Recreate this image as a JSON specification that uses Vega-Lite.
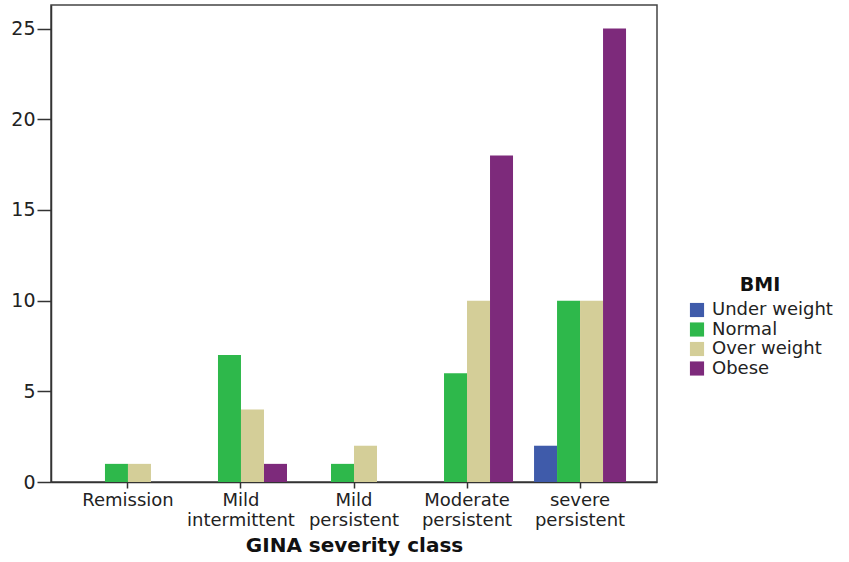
{
  "$schema": "https://vega.github.io/schema/vega-lite/v6.json",
  "width": 606,
  "height": 477,
  "autosize": {"type": "none"},
  "padding": {"left": 51, "top": 5, "right": 192, "bottom": 80},
  "background": "white",
  "config": {
    "font": "DejaVu Sans",
    "view": {"stroke": "#444", "strokeWidth": 1.5},
    "axis": {
      "domainColor": "#333",
      "domainWidth": 1.5,
      "tickColor": "#333",
      "tickWidth": 1.5,
      "labelColor": "#222",
      "labelFont": "DejaVu Sans",
      "labelFontSize": 18,
      "titleFont": "DejaVu Sans",
      "titleColor": "#111",
      "grid": false
    }
  },
  "data": {
    "values": [
      {"class": "Remission", "bmi": "Normal", "count": 1},
      {"class": "Remission", "bmi": "Over weight", "count": 1},
      {"class": "Mild intermittent", "bmi": "Normal", "count": 7},
      {"class": "Mild intermittent", "bmi": "Over weight", "count": 4},
      {"class": "Mild intermittent", "bmi": "Obese", "count": 1},
      {"class": "Mild persistent", "bmi": "Normal", "count": 1},
      {"class": "Mild persistent", "bmi": "Over weight", "count": 2},
      {"class": "Moderate persistent", "bmi": "Normal", "count": 6},
      {"class": "Moderate persistent", "bmi": "Over weight", "count": 10},
      {"class": "Moderate persistent", "bmi": "Obese", "count": 18},
      {"class": "severe persistent", "bmi": "Under weight", "count": 2},
      {"class": "severe persistent", "bmi": "Normal", "count": 10},
      {"class": "severe persistent", "bmi": "Over weight", "count": 10},
      {"class": "severe persistent", "bmi": "Obese", "count": 25}
    ]
  },
  "mark": {"type": "bar"},
  "encoding": {
    "x": {
      "field": "class",
      "type": "nominal",
      "scale": {
        "domain": ["Remission", "Mild intermittent", "Mild persistent", "Moderate persistent", "severe persistent"],
        "paddingInner": 0.186,
        "paddingOuter": 0.274
      },
      "axis": {
        "title": "GINA severity class",
        "titleFontSize": 20,
        "titleFontWeight": "bold",
        "titlePadding": 6,
        "labelAngle": 0,
        "labelExpr": "split(datum.label, ' ')",
        "labelLineHeight": 20,
        "labelBaseline": "top",
        "labelOverlap": false,
        "tickSize": 6,
        "labelPadding": 3
      }
    },
    "xOffset": {
      "field": "bmi",
      "type": "nominal",
      "scale": {
        "domain": ["Under weight", "Normal", "Over weight", "Obese"],
        "paddingInner": 0,
        "paddingOuter": 0
      }
    },
    "y": {
      "field": "count",
      "type": "quantitative",
      "scale": {"domain": [0, 26.3], "nice": false},
      "axis": {
        "title": null,
        "values": [0, 5, 10, 15, 20, 25],
        "tickSize": 14,
        "labelPadding": 2,
        "labelFontSize": 19
      }
    },
    "color": {
      "field": "bmi",
      "type": "nominal",
      "scale": {
        "domain": ["Under weight", "Normal", "Over weight", "Obese"],
        "range": ["#3F5BAA", "#2EB84B", "#D4CE98", "#7D2A7B"]
      },
      "legend": {
        "title": "BMI",
        "orient": "none",
        "legendX": 637,
        "legendY": 271,
        "titleFont": "DejaVu Sans",
        "titleFontSize": 19,
        "titleFontWeight": "bold",
        "titleColor": "#111",
        "titleAnchor": "middle",
        "titlePadding": 6,
        "labelFont": "DejaVu Sans",
        "labelFontSize": 18,
        "labelColor": "#222",
        "labelOffset": 6,
        "symbolType": "square",
        "symbolSize": 200,
        "symbolStrokeWidth": 0,
        "symbolOpacity": 1,
        "rowPadding": 1.5
      }
    }
  }
}
